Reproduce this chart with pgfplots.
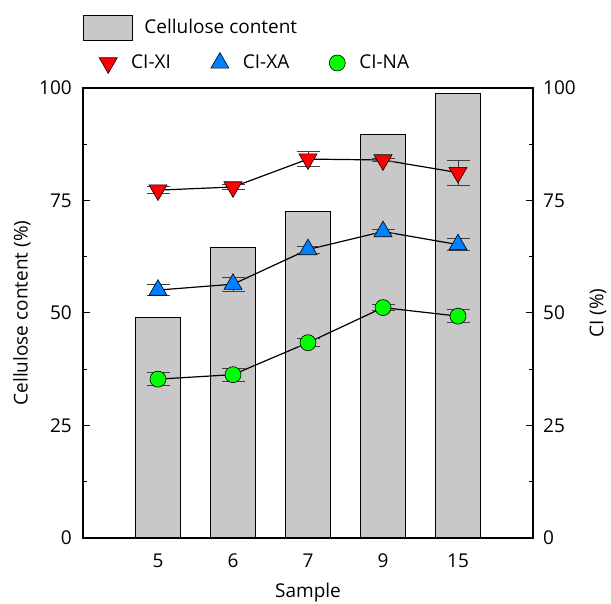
\documentclass[border=0pt]{standalone}
\usepackage{fontspec}
\setmainfont{Open Sans}
\usepackage{pgfplots}
\pgfplotsset{compat=1.18}

\definecolor{barfill}{RGB}{200,200,200}
\definecolor{xired}{RGB}{255,0,0}
\definecolor{xablue}{RGB}{0,128,255}
\definecolor{nagreen}{RGB}{0,255,0}

% Crystallinity index per sample: x position, value, error
\pgfplotstableread{
x y e
1 77.3 0.75
2 78.0 0.6
3 84.2 1.7
4 84.0 0.4
5 81.2 2.8
}\cixi
\pgfplotstableread{
x y e
1 55.1 1.3
2 56.4 1.5
3 64.1 0.8
4 68.1 0.5
5 65.2 1.4
}\cixa
\pgfplotstableread{
x y e
1 35.3 1.5
2 36.3 1.4
3 43.4 0.9
4 51.2 0.6
5 49.3 1.4
}\cina

\tikzset{mk/.style={line width=0.6pt, draw=black}}

\pgfplotsset{
  common/.style={
    scale only axis, width=450pt, height=450pt,
    at={(0pt,0pt)}, anchor=south west,
    xmin=0, xmax=6, ymin=0, ymax=100,
    ytick={0,25,50,75,100}, minor y tick num=1,
    tick align=inside, major tick length=7pt, minor tick length=4pt,
    every tick/.style={black, line width=1pt},
    axis line style={line width=1.3pt},
    /pgf/number format/assume math mode=true,
    tick label style={font=\fontsize{19}{23}\selectfont},
    label style={font=\fontsize{19}{23}\selectfont},
    legend style={font=\fontsize{19}{23}\selectfont, draw=none, fill=none,
      inner sep=0pt, nodes={inner sep=0pt}},
  },
  barlegend/.style={legend image code/.code={%
    \draw[##1] (0pt,-12.5pt) rectangle (49pt,12.5pt);}},
  marklegend/.style={legend image code/.code={%
    \draw[##1] plot coordinates {(0pt,0pt)};}},
}

\begin{document}
\fontsize{19}{23}\selectfont
\begin{tikzpicture}
\path[use as bounding box] (-83pt,-65pt) rectangle (528pt,538pt);

% left axis: cellulose content bars
\begin{axis}[common,
  ytick pos=left,
  xtick={1,2,3,4,5}, xticklabels={5,6,7,9,15},
  xtick style={draw=none},
  xticklabel style={inner ysep=0pt, yshift=-16pt},
  yticklabel style={inner xsep=11pt},
  xlabel={Sample},
  every axis x label/.style={at={(rel axis cs:0.5,-0.1333)}, anchor=base},
  ylabel={Cellulose content (\%)},
  every axis y label/.style={at={(rel axis cs:-0.1356,0.5)}, rotate=90, anchor=center},
  legend style={at={(rel axis cs:0,1.1333)}, anchor=west, column sep=11pt},
]
\addplot[ybar, bar width=45pt, fill=barfill, draw=black, line width=1.2pt, barlegend]
  coordinates {(1,49.0) (2,64.5) (3,72.5) (4,89.7) (5,98.7)};
\addlegendentry{Cellulose content}
\end{axis}

% right axis: crystallinity index
\begin{axis}[common,
  axis y line*=right, axis x line=none,
  yticklabel style={inner xsep=10pt},
  ylabel={CI (\%)},
  every axis y label/.style={at={(rel axis cs:1.1444,0.5)}, rotate=90, anchor=center},
  legend columns=3,
  legend style={at={(rel axis cs:0.0356,1.0556)}, anchor=west,
    /tikz/every odd column/.style={column sep=14pt},
    /tikz/every even column/.style={column sep=40pt}},
  marklegend,
  error bars/error bar style={line width=0.8pt, black!75},
  error bars/error mark options={rotate=90, mark size=11.5pt, line width=0.8pt, black!75},
]
\addlegendimage{only marks, mark=triangle*, mark size=10.4pt,
  mark options={mk, rotate=180, fill=xired}}
\addlegendentry{CI-XI}
\addlegendimage{only marks, mark=triangle*, mark size=10.4pt,
  mark options={mk, fill=xablue}}
\addlegendentry{CI-XA}
\addlegendimage{only marks, mark=*, mark size=8pt,
  mark options={mk, fill=nagreen}}
\addlegendentry{CI-NA}

\addplot[forget plot, black, line width=1.2pt, mark=triangle*, mark size=10.4pt,
  mark options={mk, rotate=180, fill=xired},
  error bars/.cd, y dir=both, y explicit]
  table[x=x, y=y, y error=e] {\cixi};
\addplot[forget plot, black, line width=1.2pt, mark=triangle*, mark size=10.4pt,
  mark options={mk, fill=xablue},
  error bars/.cd, y dir=both, y explicit]
  table[x=x, y=y, y error=e] {\cixa};
\addplot[forget plot, black, line width=1.2pt, mark=*, mark size=8pt,
  mark options={mk, fill=nagreen},
  error bars/.cd, y dir=both, y explicit]
  table[x=x, y=y, y error=e] {\cina};
\end{axis}
\end{tikzpicture}
\end{document}
